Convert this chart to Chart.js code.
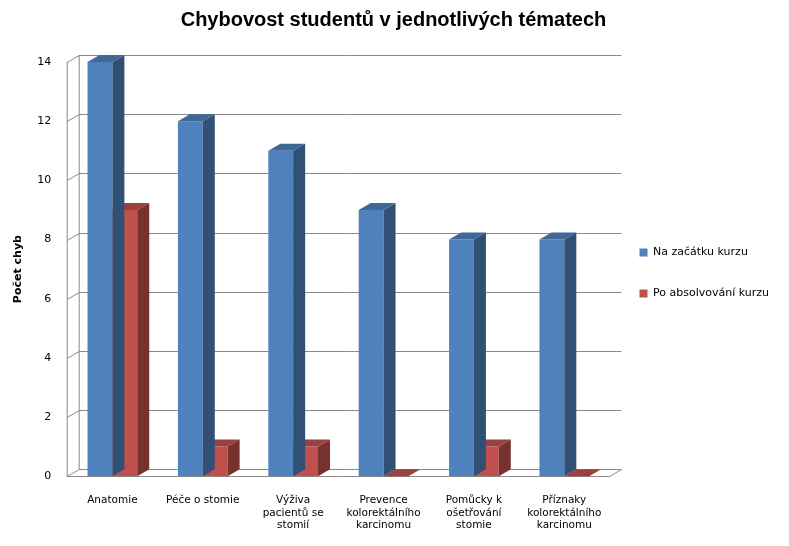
<!DOCTYPE html>
<html>
<head>
<meta charset="utf-8">
<script src="https://cdn.jsdelivr.net/npm/chart.js@4"></script>
<style>
  body { margin: 0; background: #fff; }
  #wrap { width: 789px; height: 546px; }
</style>
</head>
<body>
<div id="wrap"><canvas id="chart" width="789" height="546"></canvas></div>
<script>
const temata = [
  'Anatomie',
  'Péče o stomie',
  ['Výživa', 'pacientů se', 'stomií'],
  ['Prevence', 'kolorektálního', 'karcinomu'],
  ['Pomůcky k', 'ošetřování', 'stomie'],
  ['Příznaky', 'kolorektálního', 'karcinomu']
];
const naZacatku = [14, 12, 11, 9, 8, 8];
const poAbsolvovani = [9, 1, 1, 0, 1, 0];
const yTicks = [0, 2, 4, 6, 8, 10, 12, 14];

const DX = 12, DY = 7;

function shade(hex, f) {
  const n = parseInt(hex.slice(1), 16);
  const r = Math.round(((n >> 16) & 255) * f), g = Math.round(((n >> 8) & 255) * f), b = Math.round((n & 255) * f);
  return `rgb(${r},${g},${b})`;
}

const plugin3d = {
  id: 'plugin3d',
  beforeDatasetsDraw(chart) {
    const { ctx, chartArea: a, scales: { y } } = chart;
    ctx.save();
    ctx.strokeStyle = '#8a8a8a';
    ctx.lineWidth = 1;
    yTicks.forEach(t => {
      const py = Math.round(y.getPixelForValue(t)) + 0.5;
      ctx.beginPath();
      ctx.moveTo(a.left, py);
      ctx.lineTo(a.left + DX, py - DY);
      ctx.lineTo(a.right + DX, py - DY);
      ctx.stroke();
    });
    const b = Math.round(y.getPixelForValue(0)) + 0.5;
    ctx.beginPath();
    ctx.moveTo(a.left, b); ctx.lineTo(a.right, b); ctx.lineTo(a.right + DX, b - DY);
    ctx.moveTo(a.left + DX, y.getPixelForValue(14) - DY); ctx.lineTo(a.left + DX, b - DY);
    ctx.moveTo(a.left, y.getPixelForValue(14)); ctx.lineTo(a.left, b);
    ctx.stroke();
    ctx.restore();
  },
  afterDatasetDraw(chart, args) {
    const { ctx } = chart;
    const col = chart.data.datasets[args.index].backgroundColor;
    ctx.save();
    args.meta.data.forEach(bar => {
      const l = bar.x - bar.width / 2, r = bar.x + bar.width / 2;
      const top = bar.y, base = bar.base;
      ctx.fillStyle = shade(col, 0.62);
      ctx.beginPath();
      ctx.moveTo(r, top); ctx.lineTo(r + DX, top - DY); ctx.lineTo(r + DX, base - DY); ctx.lineTo(r, base);
      ctx.closePath(); ctx.fill();
      ctx.fillStyle = shade(col, 0.8);
      ctx.beginPath();
      ctx.moveTo(l, top); ctx.lineTo(l + DX, top - DY); ctx.lineTo(r + DX, top - DY); ctx.lineTo(r, top);
      ctx.closePath(); ctx.fill();
    });
    ctx.restore();
  }
};

new Chart(document.getElementById('chart'), {
  type: 'bar',
  data: {
    labels: temata,
    datasets: [
      { label: 'Na začátku kurzu', data: naZacatku, backgroundColor: '#4f81bd' },
      { label: 'Po absolvování kurzu', data: poAbsolvovani, backgroundColor: '#c0504d' }
    ]
  },
  options: {
    responsive: false,
    animation: false,
    layout: { padding: { top: 4, right: 10, left: 8, bottom: 4 } },
    datasets: { bar: { categoryPercentage: 0.55, barPercentage: 1 } },
    plugins: {
      title: {
        display: true, text: 'Chybovost studentů v jednotlivých tématech',
        font: { family: 'Liberation Sans', size: 20, weight: 'bold' }, color: '#000',
        padding: { top: 4, bottom: 30 }
      },
      legend: {
        position: 'right',
        labels: { boxWidth: 8, boxHeight: 8, font: { family: 'DejaVu Sans', size: 11 }, color: '#000', padding: 30 }
      },
      tooltip: { enabled: false }
    },
    scales: {
      x: {
        grid: { display: false },
        border: { display: false },
        ticks: { color: '#000', font: { family: 'DejaVu Sans', size: 10.5 }, maxRotation: 0, autoSkip: false, padding: 10 }
      },
      y: {
        min: 0, max: 14,
        afterBuildTicks: s => { s.ticks = yTicks.map(v => ({ value: v })); },
        grid: { display: false },
        border: { display: false },
        ticks: { color: '#000', font: { family: 'DejaVu Sans', size: 11 }, padding: 8 },
        title: { display: true, text: 'Počet chyb', color: '#000', font: { family: 'DejaVu Sans', size: 11, weight: 'bold' } }
      }
    }
  },
  plugins: [plugin3d]
});
</script>
</body>
</html>
